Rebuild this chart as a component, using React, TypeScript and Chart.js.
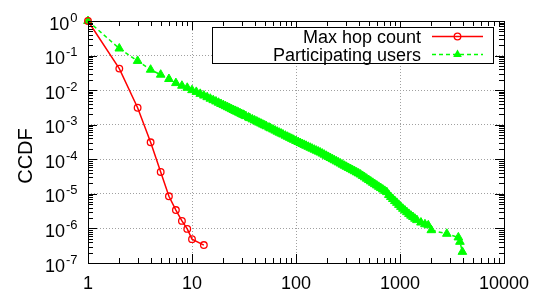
import React, { useEffect, useRef } from 'react';
import { Chart, registerables } from 'chart.js';

Chart.register(...registerables);

// ---- data ----
const seriesLabels = ['Max hop count', 'Participating users'];

const hopX = [1, 2, 3, 4, 5, 6, 7, 8, 9, 10, 13];
const hopY = [1, 0.042, 0.0031, 3.1e-4, 4.3e-5, 8.5e-6, 3.4e-6, 1.65e-6, 9.7e-7, 4.9e-7, 3.3e-7];

const userX = [
  1, 2, 3, 4, 5, 6, 7, 8, 9, 10, 11, 12, 13, 14, 15, 16, 17, 18, 19, 20,
  21, 22, 23, 24, 25, 26, 27, 28, 29, 30, 31, 32, 33, 35, 36, 38, 40, 42, 44, 46, 48,
  50, 52, 55, 57, 60, 63, 66, 69, 72, 75, 79, 83, 87, 91, 95, 100,
  105, 110, 115, 120, 125, 131, 137, 143, 150, 157, 164, 171, 179, 187, 196,
  205, 214, 224, 234, 245, 256, 268, 280, 293, 306, 320, 335, 350, 366, 383, 400,
  418, 437, 457, 478, 500, 523, 547, 572, 598, 625, 653, 683, 714, 747,
  781, 816, 853, 892, 933, 975, 1020, 1066, 1115, 1165, 1218, 1274, 1332, 1392, 1455,
  1590, 1738, 1870, 2000,
  2820, 3640, 3770, 3980,
];
const userY = [
  1, 0.16, 0.07, 0.039, 0.028, 0.021, 0.016, 0.0134, 0.0117, 0.01, 0.0089, 0.0078, 0.00697, 0.00625, 0.00565, 0.00513, 0.0047, 0.00432, 0.00398, 0.0037,
  0.00344, 0.00321, 0.00301, 0.00282, 0.00266, 0.00251, 0.00238, 0.00225, 0.00214, 0.00203, 0.00194, 0.00185, 0.00177, 0.00162, 0.00155, 0.00143, 0.00133, 0.00124, 0.00115, 0.00108, 0.00101,
  9.55e-4, 9.0e-4, 8.28e-4, 7.85e-4, 7.28e-4, 6.76e-4, 6.31e-4, 5.9e-4, 5.53e-4, 5.21e-4, 4.82e-4, 4.48e-4, 4.17e-4, 3.9e-4, 3.66e-4, 3.39e-4,
  3.16e-4, 2.96e-4, 2.77e-4, 2.61e-4, 2.46e-4, 2.3e-4, 2.16e-4, 2.03e-4, 1.9e-4, 1.78e-4, 1.67e-4, 1.57e-4, 1.46e-4, 1.36e-4, 1.26e-4,
  1.17e-4, 1.09e-4, 1.01e-4, 9.38e-5, 8.71e-5, 8.1e-5, 7.52e-5, 6.98e-5, 6.49e-5, 6.04e-5, 5.61e-5, 5.21e-5, 4.84e-5, 4.51e-5, 4.18e-5, 3.89e-5,
  3.61e-5, 3.3e-5, 3.01e-5, 2.75e-5, 2.51e-5, 2.29e-5, 2.09e-5, 1.91e-5, 1.75e-5, 1.6e-5, 1.47e-5, 1.34e-5, 1.22e-5, 1.12e-5,
  9.3e-6, 8.1e-6, 7.1e-6, 6.2e-6, 5.5e-6, 4.8e-6, 4.2e-6, 3.7e-6, 3.3e-6, 2.95e-6, 2.63e-6, 2.34e-6, 2.14e-6, 1.91e-6, 1.74e-6,
  1.48e-6, 1.32e-6, 1.23e-6, 8.9e-7,
  7e-7, 5.5e-7, 4.1e-7, 2.1e-7,
];

const xTickValues = [1, 10, 100, 1000, 10000];
const xTickLabels = ['1', '10', '100', '1000', '10000'];
const yTickValues = [1, 1e-1, 1e-2, 1e-3, 1e-4, 1e-5, 1e-6, 1e-7];
const yTickBase = '10';
const yTickExponents = ['0', '-1', '-2', '-3', '-4', '-5', '-6', '-7'];
const yAxisTitle = 'CCDF';

const RED = '#ff0000';
const GREEN = '#00ff00';
const FONT = '"Liberation Sans", Arial, Helvetica, sans-serif';

const decorPlugin = {
  id: 'gnuplotDecor',
  afterDraw(chart: any) {
    const ctx = chart.ctx as CanvasRenderingContext2D;
    const ca = chart.chartArea;
    const xs = chart.scales.x;
    const ys = chart.scales.y;
    ctx.save();
    ctx.strokeStyle = '#000';
    ctx.lineWidth = 1;
    ctx.setLineDash([]);
    ctx.beginPath();
    // x ticks (major + minor), inward on bottom and top
    for (let d = 0; d < 4; d++) {
      for (let m = 1; m <= 9; m++) {
        const v = m * Math.pow(10, d);
        const px = Math.round(xs.getPixelForValue(v)) + 0.5;
        const len = m === 1 ? 9 : 5;
        ctx.moveTo(px, ca.bottom);
        ctx.lineTo(px, ca.bottom - len);
        ctx.moveTo(px, ca.top);
        ctx.lineTo(px, ca.top + len);
      }
    }
    // y ticks, inward on left and right
    for (let e = -7; e < 0; e++) {
      for (let m = 1; m <= 9; m++) {
        const v = m * Math.pow(10, e);
        const py = Math.round(ys.getPixelForValue(v)) + 0.5;
        const len = m === 1 ? 9 : 5;
        ctx.moveTo(ca.left, py);
        ctx.lineTo(ca.left + len, py);
        ctx.moveTo(ca.right, py);
        ctx.lineTo(ca.right - len, py);
      }
    }
    ctx.stroke();
    // border box
    ctx.strokeRect(Math.round(ca.left) + 0.5, Math.round(ca.top) + 0.5,
      Math.round(ca.right - ca.left), Math.round(ca.bottom - ca.top));

    ctx.fillStyle = '#000';
    // x tick labels
    ctx.font = `18px ${FONT}`;
    ctx.textAlign = 'center';
    ctx.textBaseline = 'alphabetic';
    xTickValues.forEach((v, i) => {
      ctx.fillText(xTickLabels[i], xs.getPixelForValue(v), ca.bottom + 26);
    });
    // y tick labels 10^n
    const rightEdge = ca.left - 10.5;
    yTickValues.forEach((v, i) => {
      const py = ys.getPixelForValue(v);
      ctx.textAlign = 'right';
      ctx.font = `13px ${FONT}`;
      const ew = ctx.measureText(yTickExponents[i]).width;
      ctx.fillText(yTickExponents[i], rightEdge, py + 0.5);
      ctx.font = `18px ${FONT}`;
      ctx.fillText(yTickBase, rightEdge - ew - 1, py + 8.5);
    });
    // y axis title
    ctx.save();
    ctx.translate(32, 156);
    ctx.rotate(-Math.PI / 2);
    ctx.textAlign = 'center';
    ctx.font = `20px ${FONT}`;
    ctx.fillText(yAxisTitle, 0, 0);
    ctx.restore();

    // legend (gnuplot style key)
    const bx = 212, by = 27, bw = 281, bh = 36;
    ctx.fillStyle = '#fff';
    ctx.fillRect(bx, by, bw, bh);
    ctx.strokeStyle = '#000';
    ctx.strokeRect(bx + 0.5, by + 0.5, bw, bh);
    const rows = [36.5, 54.5];
    ctx.font = `18px ${FONT}`;
    ctx.textAlign = 'right';
    ctx.fillStyle = '#000';
    seriesLabels.forEach((lab, i) => {
      ctx.fillText(lab, 421, rows[i] + 6.5);
    });
    // red sample
    ctx.lineWidth = 1.5;
    ctx.strokeStyle = RED;
    ctx.setLineDash([]);
    ctx.beginPath();
    ctx.moveTo(432, rows[0]);
    ctx.lineTo(483, rows[0]);
    ctx.stroke();
    ctx.lineWidth = 1.3;
    ctx.beginPath();
    ctx.arc(457.5, rows[0], 3.3, 0, Math.PI * 2);
    ctx.stroke();
    // green sample
    ctx.lineWidth = 1.5;
    ctx.strokeStyle = GREEN;
    ctx.setLineDash([4, 3]);
    ctx.beginPath();
    ctx.moveTo(432, rows[1]);
    ctx.lineTo(483, rows[1]);
    ctx.stroke();
    ctx.setLineDash([]);
    ctx.fillStyle = GREEN;
    const r = 5;
    ctx.beginPath();
    ctx.moveTo(457.5, rows[1] - r);
    ctx.lineTo(457.5 + r * Math.sin(2 * Math.PI / 3), rows[1] - r * Math.cos(2 * Math.PI / 3));
    ctx.lineTo(457.5 + r * Math.sin(4 * Math.PI / 3), rows[1] - r * Math.cos(4 * Math.PI / 3));
    ctx.closePath();
    ctx.fill();
    ctx.restore();
  },
};

export default function App() {
  const ref = useRef<HTMLCanvasElement | null>(null);
  useEffect(() => {
    document.body.style.margin = '0';
    const canvas = ref.current!;
    const chart = new Chart(canvas, {
      type: 'line',
      data: {
        datasets: [
          {
            label: seriesLabels[0],
            data: hopX.map((x, i) => ({ x, y: hopY[i] })),
            borderColor: RED,
            borderWidth: 1.5,
            pointStyle: 'circle',
            pointRadius: 3.3,
            pointBorderWidth: 1.3,
            pointBorderColor: RED,
            pointBackgroundColor: 'rgba(0,0,0,0)',
            fill: false,
            tension: 0,
            clip: false as any,
          },
          {
            label: seriesLabels[1],
            data: userX.map((x, i) => ({ x, y: userY[i] })),
            borderColor: GREEN,
            borderWidth: 1.5,
            borderDash: [4, 3],
            pointStyle: 'triangle',
            pointRadius: 5,
            pointBorderWidth: 1,
            pointBorderColor: GREEN,
            pointBackgroundColor: GREEN,
            fill: false,
            tension: 0,
            clip: false as any,
          },
        ],
      },
      options: {
        animation: false,
        responsive: false,
        devicePixelRatio: 1,
        layout: { padding: { left: 88, right: 35, top: 21, bottom: 28 } },
        plugins: { legend: { display: false }, tooltip: { enabled: false } },
        scales: {
          x: {
            type: 'logarithmic',
            min: 1,
            max: 10000,
            afterBuildTicks: (s: any) => { s.ticks = xTickValues.map((value) => ({ value })); },
            ticks: { display: false },
            grid: { color: '#a0a0a0', lineWidth: 1, drawTicks: false },
            border: { display: false, dash: [1, 2] },
          },
          y: {
            type: 'logarithmic',
            min: 1e-7,
            max: 1,
            afterBuildTicks: (s: any) => { s.ticks = yTickValues.map((value) => ({ value })); },
            ticks: { display: false },
            grid: { color: '#a0a0a0', lineWidth: 1, drawTicks: false },
            border: { display: false, dash: [1, 2] },
          },
        },
      },
      plugins: [decorPlugin],
    });
    return () => chart.destroy();
  }, []);
  return <canvas ref={ref} width={539} height={291} style={{ display: 'block', width: 539, height: 291 }} />;
}
